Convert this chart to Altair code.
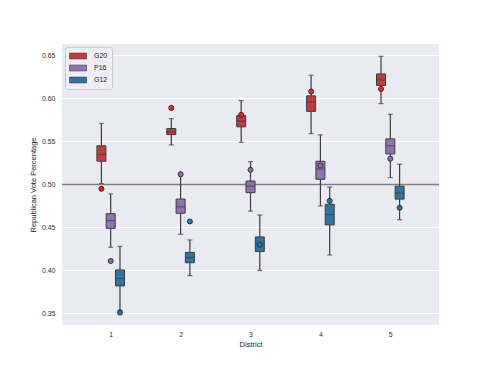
import altair as alt
import pandas as pd

districts = [1, 2, 3, 4, 5]
series = ["G20", "P16", "G12"]

# whisker low, Q1, median, Q3, whisker high, enacted-plan value
g20_lo = [0.501, 0.546, 0.549, 0.559, 0.594]
g20_q1 = [0.527, 0.558, 0.567, 0.585, 0.615]
g20_med = [0.535, 0.561, 0.5735, 0.596, 0.6215]
g20_q3 = [0.545, 0.565, 0.580, 0.603, 0.6285]
g20_hi = [0.571, 0.5765, 0.5975, 0.627, 0.649]
g20_dot = [0.495, 0.589, 0.581, 0.608, 0.611]

p16_lo = [0.427, 0.442, 0.469, 0.475, 0.508]
p16_q1 = [0.449, 0.4665, 0.4905, 0.506, 0.5355]
p16_med = [0.458, 0.474, 0.498, 0.518, 0.545]
p16_q3 = [0.466, 0.483, 0.504, 0.527, 0.553]
p16_hi = [0.489, 0.510, 0.5265, 0.5576, 0.5816]
p16_dot = [0.411, 0.512, 0.517, 0.522, 0.530]

g12_lo = [0.354, 0.394, 0.400, 0.418, 0.459]
g12_q1 = [0.382, 0.409, 0.422, 0.453, 0.483]
g12_med = [0.3905, 0.415, 0.431, 0.465, 0.490]
g12_q3 = [0.4006, 0.421, 0.439, 0.477, 0.498]
g12_hi = [0.428, 0.4355, 0.4645, 0.497, 0.5235]
g12_dot = [0.351, 0.457, 0.430, 0.481, 0.473]

y_ticks = [0.35, 0.40, 0.45, 0.50, 0.55, 0.60, 0.65]
threshold = 0.5

box_colors = ["#c03d3e", "#9372b2", "#3274a1"]
dot_colors = ["#e3262b", "#9467bd", "#1f77b4"]
line_col = "#3d3d3d"

stats = {
    "G20": (g20_lo, g20_q1, g20_med, g20_q3, g20_hi, g20_dot),
    "P16": (p16_lo, p16_q1, p16_med, p16_q3, p16_hi, p16_dot),
    "G12": (g12_lo, g12_q1, g12_med, g12_q3, g12_hi, g12_dot),
}
rows = []
for s, (lo, q1, med, q3, hi, dot) in stats.items():
    for i, d in enumerate(districts):
        rows.append(dict(district=d, series=s, lo=lo[i], q1=q1[i], med=med[i],
                         q3=q3[i], hi=hi[i], dot=dot[i]))
df = pd.DataFrame(rows)

dodge = 0.133
base = alt.Chart(df).transform_calculate(
    pos=f"datum.district + (datum.series === 'G20' ? -{dodge} : (datum.series === 'G12' ? {dodge} : 0))"
)

xscale = alt.Scale(domain=[0.375, 5.625], nice=False, zero=False)
yscale = alt.Scale(domain=[0.3366, 0.6633], nice=False, zero=False)

x_enc = alt.X("pos:Q", scale=xscale, axis=alt.Axis(
    values=districts, format="d", title="District", grid=False, domain=False,
    ticks=False, labelPadding=5, titlePadding=3))

ref = alt.Chart(pd.DataFrame({"v": [threshold]})).mark_rule(
    color="#808080", strokeWidth=1.5).encode(
    y=alt.Y("v:Q", scale=yscale, axis=alt.Axis(
        values=y_ticks, format=".2f", title="Republican Vote Percentage",
        grid=True, gridColor="white", gridWidth=1, domain=False, ticks=False,
        labelPadding=7, titlePadding=4)))

whisk = base.mark_rule(color=line_col, strokeWidth=1.2).encode(
    x=x_enc, y=alt.Y("lo:Q", scale=yscale), y2="hi:Q")

boxes = base.mark_bar(width=9, stroke=line_col, strokeWidth=1, cornerRadius=0).encode(
    x=x_enc, y=alt.Y("q1:Q", scale=yscale), y2="q3:Q",
    color=alt.Color("series:N", scale=alt.Scale(domain=series, range=box_colors),
                    sort=series,
                    legend=alt.Legend(title=None, orient="top-left")))

med = base.mark_tick(orient="horizontal", size=9, thickness=1.2, color=line_col).encode(
    x=x_enc, y=alt.Y("med:Q", scale=yscale))
cap_lo = base.mark_tick(orient="horizontal", size=5, thickness=1.2, color=line_col).encode(
    x=x_enc, y=alt.Y("lo:Q", scale=yscale))
cap_hi = base.mark_tick(orient="horizontal", size=5, thickness=1.2, color=line_col).encode(
    x=x_enc, y=alt.Y("hi:Q", scale=yscale))

dots = base.mark_point(filled=True, size=26, stroke="#222222", strokeWidth=0.8,
                       opacity=1).encode(
    x=x_enc, y=alt.Y("dot:Q", scale=yscale),
    fill=alt.Fill("series:N", scale=alt.Scale(domain=series, range=dot_colors),
                  legend=None))

chart = alt.layer(ref, whisk, boxes, med, cap_lo, cap_hi, dots).properties(
    width=377, height=281,
    autosize=alt.AutoSizeParams(type="none"),
    padding={"left": 54, "top": 36, "right": 40, "bottom": 30},
).configure(
    background="white", font="Liberation Sans"
).configure_view(
    fill="#eaeaf2", stroke=None
).configure_axis(
    labelFontSize=7, labelColor="#333333", titleFontSize=7.5,
    titleColor="#222222", titleFontWeight="normal", labelFont="Liberation Sans",
    titleFont="Liberation Sans"
).configure_legend(
    offset=3, padding=4, fillColor="#eeeef4", strokeColor="#cccccc",
    cornerRadius=2, symbolType="M-1,-0.35L1,-0.35L1,0.35L-1,0.35Z",
    symbolSize=289, symbolStrokeColor="#444444", symbolStrokeWidth=0.6,
    symbolOpacity=1, labelFontSize=7, labelColor="#222222", labelOffset=7,
    clipHeight=10, rowPadding=2
)

chart.save("out.html", embed_options={"renderer": "svg", "actions": False})
